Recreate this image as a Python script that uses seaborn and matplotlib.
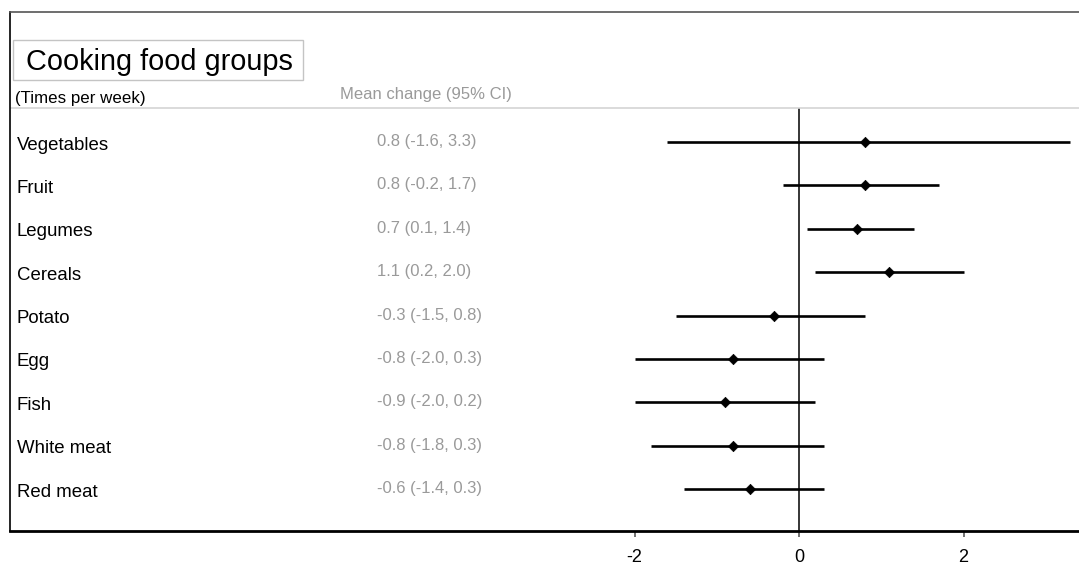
import matplotlib
matplotlib.use("Agg")
import matplotlib.pyplot as plt
from matplotlib.patches import Rectangle
import seaborn as sns
import pandas as pd

categories = ["Vegetables", "Fruit", "Legumes", "Cereals", "Potato", "Egg",
              "Fish", "White meat", "Red meat"]
means = [0.8, 0.8, 0.7, 1.1, -0.3, -0.8, -0.9, -0.8, -0.6]
lower = [-1.6, -0.2, 0.1, 0.2, -1.5, -2.0, -2.0, -1.8, -1.4]
upper = [3.3, 1.7, 1.4, 2.0, 0.8, 0.3, 0.2, 0.3, 0.3]
xticks = [-2, 0, 2]
title = "Cooking food groups"
subtitle = "(Times per week)"
ci_header = "Mean change (95% CI)"

sns.set_style("white")
plt.rcParams["font.family"] = ["Liberation Sans", "DejaVu Sans"]

df = pd.DataFrame({"cat": categories, "mean": means, "lo": lower, "hi": upper})
df["row"] = range(len(df))

W, H = 1079, 566
fig = plt.figure(figsize=(W / 100, H / 100), dpi=100)
ax_left, ax_right, ax_top, ax_bot = 10, 1090, 12, 531
ax = fig.add_axes([ax_left / W, (H - ax_bot) / H, (ax_right - ax_left) / W,
                   (ax_bot - ax_top) / H])

# scale: 0 at px 799, 2 units per 164.5 px
px0, ppu = 799, 82.25
ax.set_xlim((ax_left - px0) / ppu, (ax_right - px0) / ppu)
row0, rstep = 142, 43.375
ax.set_ylim((ax_bot - row0) / rstep, (ax_top - row0) / rstep)

header_y = (108 - row0) / rstep

# CI lines and points
ax.hlines(df["row"], df["lo"], df["hi"], color="black", lw=1.9, zorder=2)
ax.vlines(0, header_y, (ax_bot - row0) / rstep, color="black", lw=1.1, zorder=1)
sns.scatterplot(data=df, x="mean", y="row", marker="D", s=28, color="black",
                edgecolor="black", linewidth=0.5, ax=ax, zorder=3, legend=False)

# header line
ax.axhline(header_y, color="#d4d4d4", lw=1.2, zorder=1)

span = ax_right - ax_left
tr = ax.get_yaxis_transform()
for _, r in df.iterrows():
    ax.text((17 - ax_left) / span, r["row"] + 0.07, r["cat"],
            transform=tr, ha="left", va="center", fontsize=13.4, color="black")
    ax.text((377 - ax_left) / span, r["row"] - 0.01,
            f"{r['mean']:.1f} ({r['lo']:.1f}, {r['hi']:.1f})",
            transform=tr, ha="left", va="center", fontsize=12, color="#9a9a9a")

ax.text((15 - ax_left) / span, (99 - row0) / rstep, subtitle,
        transform=tr, ha="left", va="center", fontsize=12.2, color="black")
ax.text((340 - ax_left) / span, (95 - row0) / rstep, ci_header,
        transform=tr, ha="left", va="center", fontsize=12, color="#9a9a9a")

# title box
fig.add_artist(Rectangle((13 / W, (H - 80) / H), 290 / W, 40 / H,
                         transform=fig.transFigure, fill=False,
                         edgecolor="#c4c4c4", lw=1.0))
fig.text(26 / W, (H - 62) / H, title, ha="left", va="center", fontsize=20.8,
         color="black")

ax.set_xlabel("")
ax.set_ylabel("")
ax.set_yticks([])
ax.set_xticks(xticks)
ax.set_xticklabels([str(t) for t in xticks])
ax.tick_params(axis="x", bottom=True, length=4, width=1.3, color="#666666",
               pad=9, labelsize=13, labelcolor="black")
ax.spines["right"].set_visible(False)
ax.spines["left"].set_color("black")
ax.spines["left"].set_linewidth(1.2)
ax.spines["top"].set_color("#555555")
ax.spines["top"].set_linewidth(1.2)
ax.spines["bottom"].set_color("black")
ax.spines["bottom"].set_linewidth(2.0)

fig.savefig("out.png", dpi=100)
